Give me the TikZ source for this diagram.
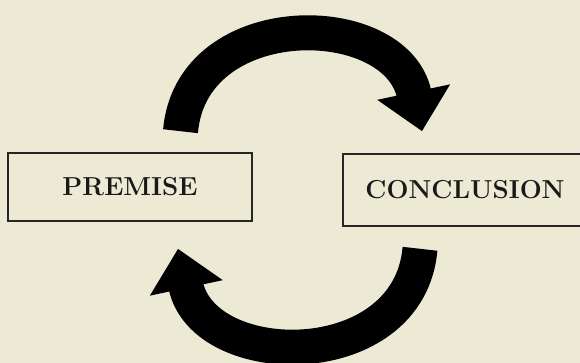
\documentclass[tikz,border=0pt]{standalone}
\usepackage{xcolor}
\usepackage{tikz}
\usetikzlibrary{arrows.meta}
\definecolor{paper}{RGB}{236,234,212}

\begin{document}
\begin{tikzpicture}[x=1pt,y=1pt,
        box/.style={draw=black!85,line width=1.6pt,minimum width=244pt,inner sep=0pt,text=black!90,font=\fontsize{26}{30}\selectfont\bfseries},
        loop arrow/.style={line width=35pt,-{Triangle[width=72pt,length=40pt]}}]
        \useasboundingbox (0,0) rectangle (580,363);
        \clip (0,0) rectangle (580,363);
        \fill[paper] (0,0) rectangle (580,363);
        \node[box,minimum height=68pt] (premise) at (130,176) {PREMISE};
        \node[box,minimum height=72pt] (conclusion) at (465,173) {CONCLUSION};
        \draw[loop arrow] ([xshift=50.5pt,yshift=21pt]premise.north) to[out=85,in=102,distance=126pt] ([xshift=-43pt,yshift=22pt]conclusion.north);
        \draw[loop arrow] ([xshift=-45pt,yshift=-22pt]conclusion.south) to[out=-95,in=-78,distance=126pt] ([xshift=48pt,yshift=-27pt]premise.south);
    \end{tikzpicture}
\end{document}
